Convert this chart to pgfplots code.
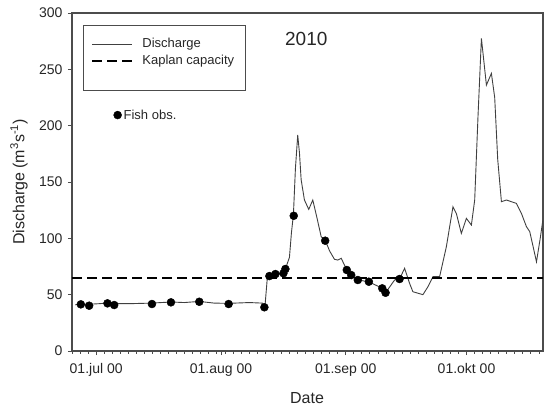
\documentclass[border=0pt]{standalone}
\usepackage{pgfplots}
\pgfplotsset{compat=1.18}
\usepackage{fontspec}
\setmainfont{Liberation Sans}
\begin{document}
\begin{tikzpicture}
\useasboundingbox (-72pt,-55pt) rectangle (473pt,351pt);
\begin{axis}[
  at={(0pt,0pt)}, anchor=south west,
  scale only axis, width=471pt, height=338pt,
  xmin=-6, xmax=111, ymin=0, ymax=300,
  axis line style={black!70, line width=1.1pt},
  xtick={0,31,62,92},
  xticklabels={01.jul 00,01.aug 00,01.sep 00,01.okt 00},
  minor xtick={-6,-4,...,110},
  ytick={0,50,...,300},
  xtick pos=bottom, ytick pos=left,
  tick align=outside,
  major tick length=4pt, minor tick length=2.5pt,
  every tick/.style={black!70, line width=0.9pt},
  /pgf/number format/assume math mode=true,
  tick label style={font=\fontsize{14}{16}\selectfont, text=black!85},
  xticklabel style={yshift=-5pt},
  yticklabel style={xshift=-2pt},
  xlabel={Date}, ylabel={Discharge (m\textsuperscript{3}s\textsuperscript{-1})},
  label style={font=\fontsize{16}{18}\selectfont, text=black!85},
  xlabel style={at={(axis description cs:0.499,-0.139)}, anchor=center},
  ylabel style={at={(axis description cs:-0.1125,0.5)}, anchor=center},
  legend style={at={(axis description cs:0.0403,0.931)}, anchor=north west,
    draw=none, fill=none, font=\fontsize{13}{15}\selectfont,
    inner sep=0pt, row sep=2pt, column sep=7pt,
    nodes={text=black!85, inner sep=2pt}},
  legend cell align=left,
  legend image code/.code={\draw[#1] (0pt,0pt) -- (40pt,0pt);},
]
\draw[black!70, line width=0.8pt] (axis description cs:0.0234,0.9645) rectangle (axis description cs:0.3673,0.7722);
\addplot[black!75, line width=0.9pt] coordinates {
(-5.22,41) (-3.73,41.5) (-1.74,41.5) (0.75,42) (2.74,42.5) (4.48,42) (8.21,42)
(13.68,42.5) (18.66,43.5) (21.89,43) (25.62,44) (29.35,42.5) (32.84,42.3)
(38.06,43) (41.3,42.5) (41.92,39) (42.54,66) (44.53,68) (46.52,69) (47.01,73)
(48.01,83) (48.51,105) (49.00,121) (49.50,162) (50.07,191.7) (50.50,176)
(50.92,152) (51.74,134) (52.81,125.7) (53.81,134) (54.80,119) (55.90,101.4)
(56.89,98.5) (57.96,89) (59.20,81.4) (60.02,80.7) (60.87,82.3) (62.26,72)
(63.36,67.4) (65.00,63) (67.74,61.5) (71.07,55.6) (71.89,51.7) (74.13,63)
(75.37,64) (76.62,73.4) (77.86,60) (78.68,52.6) (81.17,50) (82.41,57)
(83.66,66) (85.32,66) (86.99,92.5) (88.63,128) (89.48,122) (90.72,104.4)
(91.97,117.7) (93.21,111.8) (94.03,134) (94.85,208) (95.70,277.5) (96.94,236)
(98.18,246.4) (99.00,225) (99.75,170) (100.67,132.5) (101.92,134) (104.40,131)
(105.65,122) (106.89,110.3) (107.71,105.9) (109.38,79.2) (110.37,101.4) (110.95,116)
};
\addlegendentry{Discharge}
\addplot[black, line width=2.2pt, dash pattern=on 10pt off 5pt] coordinates {(-6,65) (111,65)};
\addlegendentry{Kaplan capacity}
\addplot[only marks, mark=*, mark size=4pt, black, forget plot] coordinates {
(-3.81,41.4) (-1.74,40.2) (2.81,42.3) (4.48,40.8) (13.86,41.7) (18.58,43.2)
(25.62,43.7) (32.91,41.7) (41.79,38.8) (43.03,66.5) (44.53,68.3) (46.52,69)
(47.01,72.8) (49.08,120) (56.89,97.9) (62.26,71.9) (63.36,67.4) (65.00,63)
(67.74,61.5) (71.07,55.6) (71.89,51.7) (75.37,63.9)
};
\node[font=\fontsize{19}{21}\selectfont, text=black!85] at (axis cs:52.2,276.8) {2010};
\end{axis}
\begin{axis}[
  at={(0pt,0pt)}, anchor=south west,
  scale only axis, width=471pt, height=338pt,
  xmin=-6, xmax=111, ymin=0, ymax=300, hide axis,
  legend style={at={(axis description cs:0.088,0.698)}, anchor=west, draw=none, fill=none,
    font=\fontsize{13}{15}\selectfont, inner xsep=0pt, nodes={text=black!85}},
  legend image code/.code={\draw[#1] plot coordinates {(4pt,0pt)};},
]
\addplot[draw=none, forget plot] coordinates {(0,0)};
\addlegendimage{only marks, mark=*, mark size=4pt, black}
\addlegendentry{Fish obs.}
\end{axis}
\end{tikzpicture}
\end{document}
